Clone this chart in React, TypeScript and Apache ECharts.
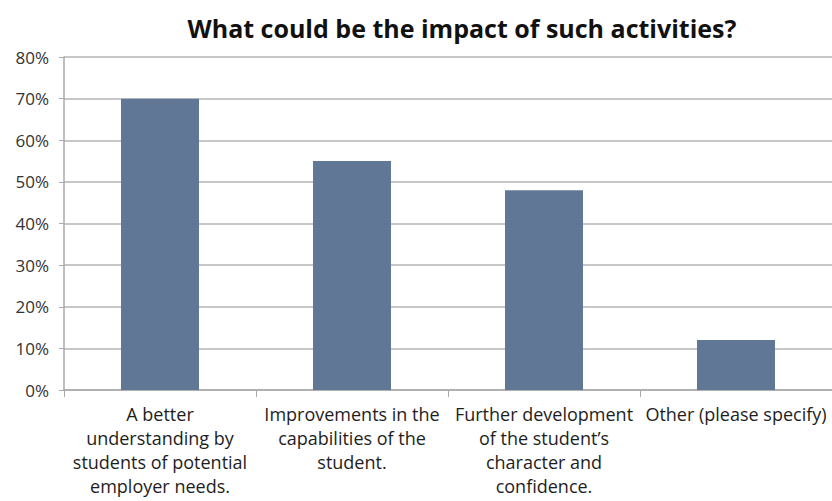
import React, { useEffect, useRef } from "react";
import * as echarts from "echarts";

const categories = [
  "A better\nunderstanding by\nstudents of potential\nemployer needs.",
  "Improvements in the\ncapabilities of the\nstudent.",
  "Further development\nof the student’s\ncharacter and\nconfidence.",
  "Other (please specify)",
];
const values = [70, 55, 48, 12];
const title = "What could be the impact of such activities?";

export default function App() {
  const ref = useRef<HTMLDivElement>(null);
  useEffect(() => {
    document.body.style.margin = "0";
    const chart = echarts.init(ref.current!, null, { renderer: "svg" });
    const font = "'Open Sans', 'Liberation Sans', sans-serif";
    chart.setOption({
      animation: false,
      backgroundColor: "#ffffff",
      title: {
        text: title,
        left: 457,
        textAlign: "center",
        top: 10,
        textStyle: { fontFamily: font, fontSize: 25, fontWeight: "bold", color: "#111111" },
      },
      grid: { left: 64, right: -11, top: 57, bottom: 111, containLabel: false },
      xAxis: {
        type: "category",
        data: categories,
        axisLine: { lineStyle: { color: "#aaaaaa", width: 1.5 } },
        axisTick: { show: true, length: 7, lineStyle: { color: "#aaaaaa" } },
        axisLabel: {
          interval: 0,
          margin: 12,
          fontFamily: font,
          fontSize: 18,
          lineHeight: 24,
          color: "#1e1e1e",
        },
      },
      yAxis: {
        type: "value",
        min: 0,
        max: 80,
        interval: 10,
        axisLine: { show: true, lineStyle: { color: "#aaaaaa", width: 1.5 } },
        axisTick: { show: true, length: 5, lineStyle: { color: "#aaaaaa" } },
        splitLine: { lineStyle: { color: "#b4b4b4", width: 1.5 } },
        axisLabel: {
          formatter: "{value}%",
          margin: 15,
          fontFamily: font,
          fontSize: 17,
          color: "#333333",
        },
      },
      series: [
        {
          type: "bar",
          data: values,
          barWidth: 78,
          itemStyle: { color: "#607896" },
        },
      ],
    });
    return () => chart.dispose();
  }, []);
  return <div ref={ref} style={{ width: 832, height: 501 }} />;
}
